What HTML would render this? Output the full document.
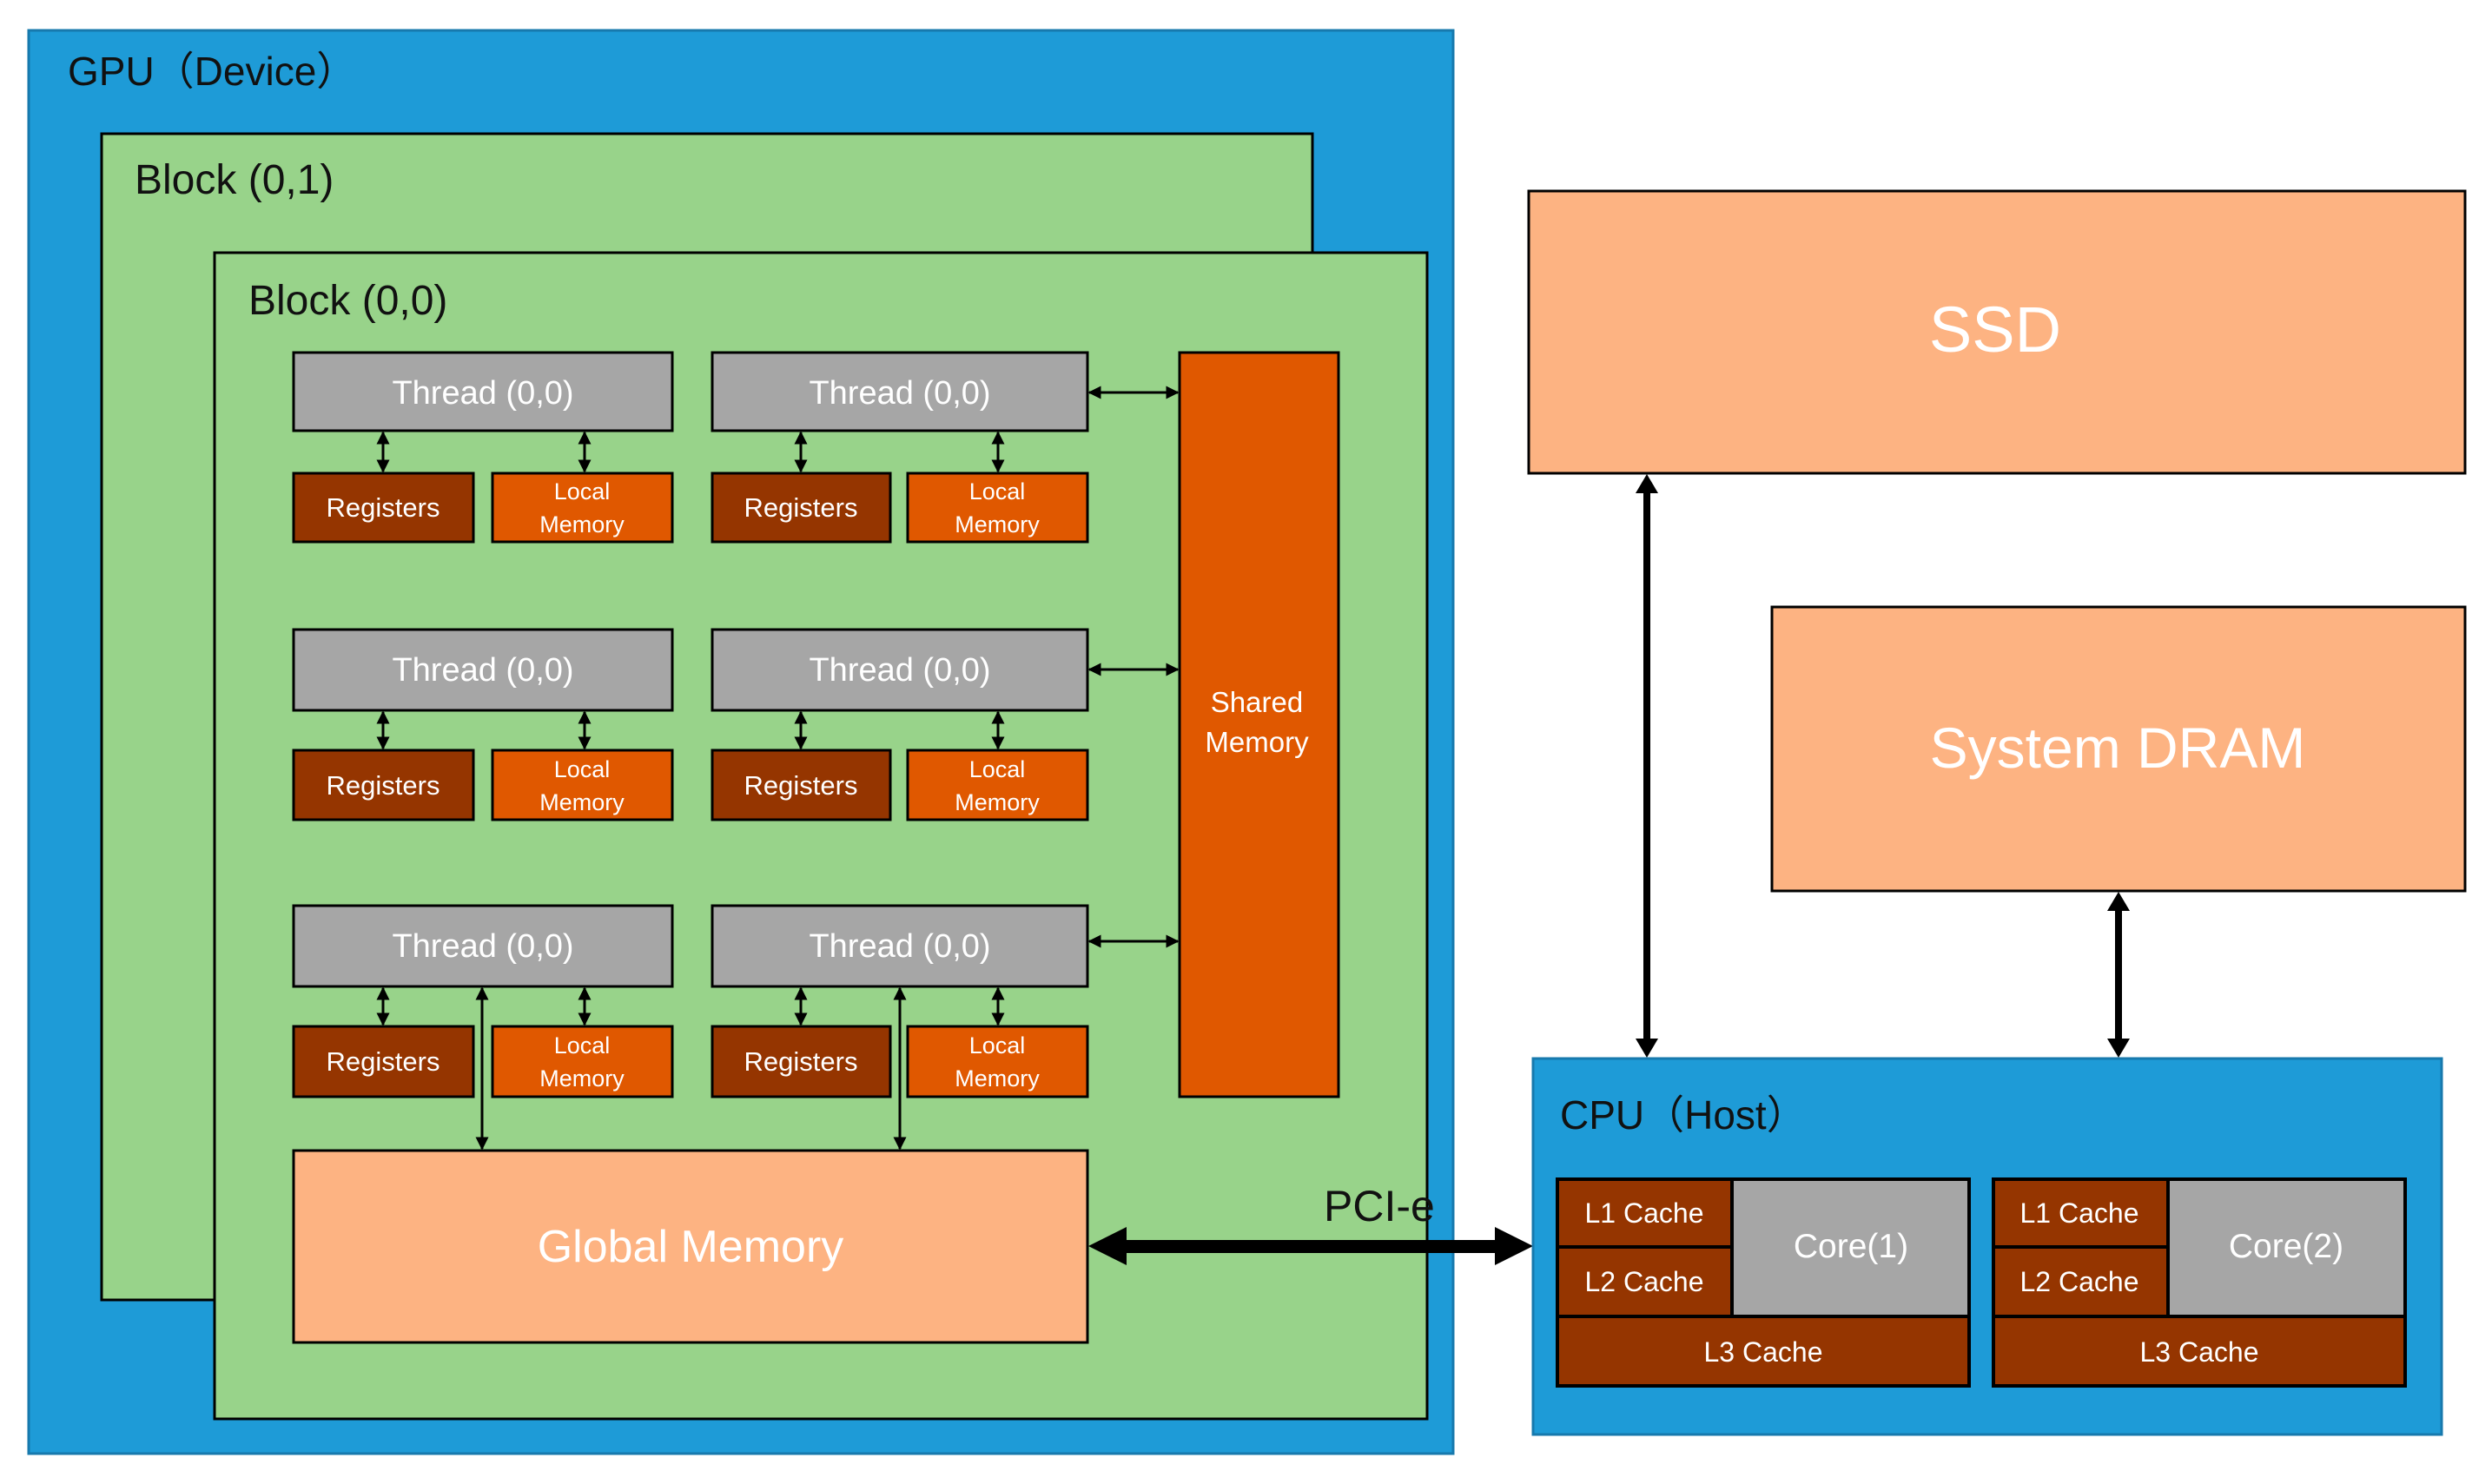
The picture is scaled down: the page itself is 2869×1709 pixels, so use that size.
<!DOCTYPE html>
<html><head><meta charset="utf-8"><style>
html,body{margin:0;padding:0;background:#fff;}
svg{display:block;}
text{font-family:"Liberation Sans","Noto Sans CJK SC",sans-serif;}
</style></head><body>
<svg width="2869" height="1709" viewBox="0 0 2869 1709" xmlns="http://www.w3.org/2000/svg">
<defs>
<marker id="a" viewBox="0 0 10 10" refX="9" refY="5" markerWidth="5" markerHeight="5" orient="auto-start-reverse"><path d="M0,0L10,5L0,10z" fill="#000"/></marker>
</defs>
<!-- GPU -->
<rect x="33" y="35" width="1640" height="1639" fill="#1e9bd7" stroke="#1779ad" stroke-width="3"/>
<text x="78" y="98" font-size="46" fill="#111">GPU（Device）</text>
<rect x="117" y="154" width="1394" height="1343" fill="#98d38a" stroke="#000" stroke-width="3"/>
<text x="155" y="223" font-size="48" fill="#111">Block (0,1)</text>
<rect x="247" y="291" width="1396" height="1343" fill="#98d38a" stroke="#000" stroke-width="3"/>
<text x="286" y="362" font-size="48" fill="#111">Block (0,0)</text>

<g stroke="#000" stroke-width="3">
<!-- threads -->
<rect x="338" y="406" width="436" height="90" fill="#a6a6a6"/>
<rect x="820" y="406" width="432" height="90" fill="#a6a6a6"/>
<rect x="338" y="725" width="436" height="93" fill="#a6a6a6"/>
<rect x="820" y="725" width="432" height="93" fill="#a6a6a6"/>
<rect x="338" y="1043" width="436" height="93" fill="#a6a6a6"/>
<rect x="820" y="1043" width="432" height="93" fill="#a6a6a6"/>
<!-- regs / local -->
<rect x="338" y="545" width="207" height="79" fill="#953500"/>
<rect x="567" y="545" width="207" height="79" fill="#e05800"/>
<rect x="820" y="545" width="205" height="79" fill="#953500"/>
<rect x="1045" y="545" width="207" height="79" fill="#e05800"/>
<rect x="338" y="864" width="207" height="80" fill="#953500"/>
<rect x="567" y="864" width="207" height="80" fill="#e05800"/>
<rect x="820" y="864" width="205" height="80" fill="#953500"/>
<rect x="1045" y="864" width="207" height="80" fill="#e05800"/>
<rect x="338" y="1182" width="207" height="81" fill="#953500"/>
<rect x="567" y="1182" width="207" height="81" fill="#e05800"/>
<rect x="820" y="1182" width="205" height="81" fill="#953500"/>
<rect x="1045" y="1182" width="207" height="81" fill="#e05800"/>
<!-- shared -->
<rect x="1358" y="406" width="183" height="857" fill="#e05800"/>
<!-- global -->
<rect x="338" y="1325" width="914" height="221" fill="#fdb382"/>
<!-- SSD / DRAM -->
<rect x="1760" y="220" width="1078" height="325" fill="#fdb382"/>
<rect x="2040" y="699" width="798" height="327" fill="#fdb382"/>
</g>

<!-- small arrows -->
<g stroke="#000" stroke-width="3" marker-start="url(#a)" marker-end="url(#a)">
<line x1="441" y1="498" x2="441" y2="543"/><line x1="673" y1="498" x2="673" y2="543"/>
<line x1="922" y1="498" x2="922" y2="543"/><line x1="1149" y1="498" x2="1149" y2="543"/>
<line x1="441" y1="820" x2="441" y2="862"/><line x1="673" y1="820" x2="673" y2="862"/>
<line x1="922" y1="820" x2="922" y2="862"/><line x1="1149" y1="820" x2="1149" y2="862"/>
<line x1="441" y1="1138" x2="441" y2="1180"/><line x1="673" y1="1138" x2="673" y2="1180"/>
<line x1="922" y1="1138" x2="922" y2="1180"/><line x1="1149" y1="1138" x2="1149" y2="1180"/>
<line x1="555" y1="1138" x2="555" y2="1323"/><line x1="1036" y1="1138" x2="1036" y2="1323"/>
<line x1="1254" y1="452" x2="1356" y2="452"/>
<line x1="1254" y1="771" x2="1356" y2="771"/>
<line x1="1254" y1="1084" x2="1356" y2="1084"/>
</g>

<!-- PCI-e arrow -->
<rect x="1295" y="1428" width="428" height="15" fill="#000"/>
<path d="M1253,1435L1297,1413L1297,1457z" fill="#000"/>
<path d="M1765,1435L1721,1413L1721,1457z" fill="#000"/>
<text x="1524" y="1406" font-size="50" fill="#111">PCI-e</text>

<!-- SSD / DRAM arrows -->
<rect x="1892" y="565" width="8" height="634" fill="#000"/>
<path d="M1896,546L1883,568L1909,568z" fill="#000"/>
<path d="M1896,1218L1883,1196L1909,1196z" fill="#000"/>
<rect x="2435" y="1046" width="8" height="153" fill="#000"/>
<path d="M2439,1027L2426,1049L2452,1049z" fill="#000"/>
<path d="M2439,1218L2426,1196L2452,1196z" fill="#000"/>

<!-- CPU -->
<rect x="1765" y="1219" width="1046" height="433" fill="#1e9bd7" stroke="#1779ad" stroke-width="3"/>
<text x="1796" y="1300" font-size="46" fill="#111">CPU（Host）</text>
<g stroke="#000" stroke-width="4">
<rect x="1793" y="1358" width="474" height="238" fill="#a6a6a6"/>
<rect x="1793" y="1358" width="201" height="78" fill="#953500"/>
<rect x="1793" y="1436" width="201" height="80" fill="#953500"/>
<rect x="1793" y="1516" width="474" height="80" fill="#953500"/>
<rect x="2295" y="1358" width="474" height="238" fill="#a6a6a6"/>
<rect x="2295" y="1358" width="201" height="78" fill="#953500"/>
<rect x="2295" y="1436" width="201" height="80" fill="#953500"/>
<rect x="2295" y="1516" width="474" height="80" fill="#953500"/>
</g>

<g fill="#fff" text-anchor="middle">
<text x="556" y="465" font-size="38">Thread (0,0)</text>
<text x="1036" y="465" font-size="38">Thread (0,0)</text>
<text x="556" y="784" font-size="38">Thread (0,0)</text>
<text x="1036" y="784" font-size="38">Thread (0,0)</text>
<text x="556" y="1102" font-size="38">Thread (0,0)</text>
<text x="1036" y="1102" font-size="38">Thread (0,0)</text>
<g font-size="31">
<text x="441" y="595">Registers</text><text x="922" y="595">Registers</text>
<text x="441" y="915">Registers</text><text x="922" y="915">Registers</text>
<text x="441" y="1233">Registers</text><text x="922" y="1233">Registers</text>
</g>
<g font-size="27">
<text x="670" y="575">Local</text><text x="670" y="613">Memory</text>
<text x="1148" y="575">Local</text><text x="1148" y="613">Memory</text>
<text x="670" y="895">Local</text><text x="670" y="933">Memory</text>
<text x="1148" y="895">Local</text><text x="1148" y="933">Memory</text>
<text x="670" y="1213">Local</text><text x="670" y="1251">Memory</text>
<text x="1148" y="1213">Local</text><text x="1148" y="1251">Memory</text>
</g>
<text x="1447" y="820" font-size="33">Shared</text>
<text x="1447" y="866" font-size="33">Memory</text>
<text x="795" y="1453" font-size="52">Global Memory</text>
<text x="2297" y="405" font-size="74">SSD</text>
<text x="2438" y="884" font-size="66">System DRAM</text>
<g font-size="32">
<text x="1893" y="1408">L1 Cache</text><text x="1893" y="1487">L2 Cache</text>
<text x="2030" y="1568">L3 Cache</text>
<text x="2394" y="1408">L1 Cache</text><text x="2394" y="1487">L2 Cache</text>
<text x="2532" y="1568">L3 Cache</text>
</g>
<text x="2131" y="1448" font-size="39">Core(1)</text>
<text x="2632" y="1448" font-size="39">Core(2)</text>
</g>
</svg>
</body></html>
